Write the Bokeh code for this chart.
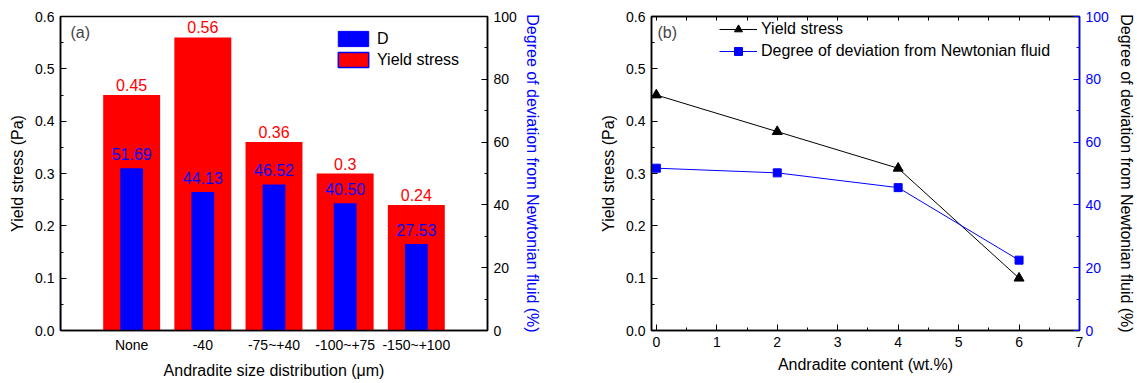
from bokeh.plotting import figure
from bokeh.models import (Range1d, LinearAxis, FixedTicker, PrintfTickFormatter,
                          Legend, LegendItem, Label, ColumnDataSource)
from bokeh.layouts import row
from bokeh.embed import file_html
from bokeh.resources import INLINE
from bokeh.core.properties import value

# ---------------- data ----------------
size_labels = ["None", "-40", "-75~+40", "-100~+75", "-150~+100"]
yield_a = [0.45, 0.56, 0.36, 0.30, 0.24]
dev_a = [51.69, 44.13, 46.52, 40.50, 27.53]

content_b = [0, 2, 4, 6]
yield_b = [0.45, 0.38, 0.31, 0.10]
dev_b = [51.69, 50.2, 45.5, 22.4]

yield_ticks = [0.0, 0.1, 0.2, 0.3, 0.4, 0.5, 0.6]
yield_minor = [0.05, 0.15, 0.25, 0.35, 0.45, 0.55]
dev_ticks = [0, 20, 40, 60, 80, 100]
dev_minor = [10, 30, 50, 70, 90]
content_ticks = [0, 1, 2, 3, 4, 5, 6, 7]
content_minor = [0.5, 1.5, 2.5, 3.5, 4.5, 5.5, 6.5]

FONT = "Liberation Sans"
TICK = "14px"
TITLE = "16px"
RED = "#ff0000"
BLUE = "#0000ff"


def style_axis(ax, color="black", title_color="black", minor=True, ticks=True):
    ax.axis_label_text_font = FONT
    ax.axis_label_text_font_size = TITLE
    ax.axis_label_text_font_style = "normal"
    ax.axis_label_text_color = title_color
    ax.major_label_text_font = FONT
    ax.major_label_text_font_size = TICK
    ax.major_label_text_color = color
    ax.axis_line_color = color
    ax.axis_line_width = 1.5
    ax.major_tick_line_color = color
    ax.minor_tick_line_color = color
    ax.major_tick_out = 0
    ax.minor_tick_out = 0
    ax.major_tick_in = 6 if ticks else 0
    ax.minor_tick_in = 3 if (ticks and minor) else 0
    ax.major_label_standoff = 6
    ax.axis_label_standoff = 6


# ---------------- panel (a) ----------------
xa = [i + 1 for i in range(len(size_labels))]
src_a = ColumnDataSource(dict(
    x=xa, ys=yield_a, d=dev_a,
    ys_txt=[str(v) for v in yield_a],
    d_txt=["%.2f" % v for v in dev_a],
))

p1 = figure(width=570, height=383, x_range=Range1d(0, 6), y_range=Range1d(0, 0.6),
            output_backend="svg", toolbar_location=None, title=None,
            min_border_left=60, min_border_right=83, min_border_top=16, min_border_bottom=53)
p1.extra_y_ranges = {"d": Range1d(0, 100)}
p1.grid.visible = False
p1.outline_line_color = "black"
p1.outline_line_width = 1.5
p1.background_fill_color = "white"
p1.border_fill_color = "white"

red_bars = p1.vbar(x="x", top="ys", width=0.8, source=src_a, fill_color=RED, line_color=None)
blue_bars = p1.vbar(x="x", top="d", width=0.32, source=src_a, fill_color=BLUE, line_color=None,
                    y_range_name="d")
p1.text(x="x", y="ys", text="ys_txt", source=src_a, text_color=RED,
        text_font=value(FONT), text_font_size="16px", text_align="center",
        text_baseline="bottom", y_offset=-4)
p1.text(x="x", y="d", text="d_txt", source=src_a, text_color=BLUE,
        text_font=value(FONT), text_font_size="16px", text_align="center",
        text_baseline="bottom", y_offset=-8, y_range_name="d")

# legend proxy glyphs (placed outside the visible x range)
leg_d = p1.vbar(x=[-10], top=[0.1], width=0.3, fill_color=BLUE, line_color=BLUE)
leg_y = p1.vbar(x=[-10], top=[0.1], width=0.3, fill_color=RED, line_color=BLUE, line_width=1.5)
lg1 = Legend(items=[LegendItem(label="D", renderers=[leg_d]),
                    LegendItem(label="Yield stress", renderers=[leg_y])],
             location=(274, 261), glyph_width=38, glyph_height=19, spacing=2,
             label_standoff=5, padding=0, margin=0, border_line_color=None,
             background_fill_alpha=0, label_text_font=FONT, label_text_font_size="16px",
             label_text_color="black", label_height=19)
p1.add_layout(lg1)

ax = p1.yaxis[0]
ax.ticker = FixedTicker(ticks=yield_ticks, minor_ticks=yield_minor)
ax.formatter = PrintfTickFormatter(format="%.1f")
ax.axis_label = "Yield stress (Pa)"
style_axis(ax)

xa_ax = p1.xaxis[0]
xa_ax.ticker = FixedTicker(ticks=xa)
xa_ax.major_label_overrides = {x: lab for x, lab in zip(xa, size_labels)}
xa_ax.axis_label = "Andradite size distribution (\u03bcm)"
style_axis(xa_ax, ticks=False)

r1 = LinearAxis(y_range_name="d", ticker=FixedTicker(ticks=dev_ticks, minor_ticks=dev_minor),
                axis_label="Degree of deviation from Newtonian fluid (%)")
style_axis(r1, title_color=BLUE)
r1.axis_label_standoff = 4
p1.add_layout(r1, "right")

p1.add_layout(Label(x=0.14, y=0.586, text="(a)", text_font=FONT, text_font_size="16px",
                    text_baseline="top"))

# ---------------- panel (b) ----------------
p2 = figure(width=567, height=383, x_range=Range1d(-0.08, 7), y_range=Range1d(0, 0.6),
            output_backend="svg", toolbar_location=None, title=None,
            min_border_left=81, min_border_right=58, min_border_top=16, min_border_bottom=53)
p2.extra_y_ranges = {"d": Range1d(0, 100)}
p2.grid.visible = False
p2.outline_line_color = "black"
p2.outline_line_width = 1.5

l_y = p2.line(content_b, yield_b, line_color="black", line_width=1)
m_y = p2.scatter(content_b, yield_b, marker="triangle", size=10, fill_color="black",
                 line_color="black")
l_d = p2.line(content_b, dev_b, line_color=BLUE, line_width=1, y_range_name="d")
m_d = p2.scatter(content_b, dev_b, marker="square", size=8, fill_color=BLUE,
                 line_color=BLUE, y_range_name="d")

lg2 = Legend(items=[LegendItem(label="Yield stress", renderers=[l_y, m_y]),
                    LegendItem(label="Degree of deviation from Newtonian fluid", renderers=[l_d, m_d])],
             location=(68, 269), glyph_width=38, glyph_height=20, spacing=2,
             label_standoff=4, padding=0, margin=0, border_line_color=None,
             background_fill_alpha=0, label_text_font=FONT, label_text_font_size="16px",
             label_text_color="black", label_height=20)
p2.add_layout(lg2)

ay = p2.yaxis[0]
ay.ticker = FixedTicker(ticks=yield_ticks, minor_ticks=yield_minor)
ay.formatter = PrintfTickFormatter(format="%.1f")
ay.axis_label = "Yield stress (Pa)"
style_axis(ay)

axb = p2.xaxis[0]
axb.ticker = FixedTicker(ticks=content_ticks, minor_ticks=content_minor)
axb.axis_label = "Andradite content (wt.%)"
style_axis(axb)

# mirrored tick marks along the top frame (no labels)
top = LinearAxis(ticker=FixedTicker(ticks=[], minor_ticks=content_ticks + content_minor))
style_axis(top)
top.minor_tick_in = 4
top.major_label_standoff = 0
top.axis_label_standoff = 0
p2.add_layout(top, "above")

r2 = LinearAxis(y_range_name="d", ticker=FixedTicker(ticks=dev_ticks, minor_ticks=dev_minor),
                axis_label="Degree of deviation from Newtonian fluid (%)")
style_axis(r2, color=BLUE, title_color="black")
p2.add_layout(r2, "right")

p2.add_layout(Label(x=0.02, y=0.586, text="(b)", text_font=FONT, text_font_size="16px",
                    text_baseline="top"))

layout = row(p1, p2)
open("out.html", "w").write(file_html(layout, INLINE))
